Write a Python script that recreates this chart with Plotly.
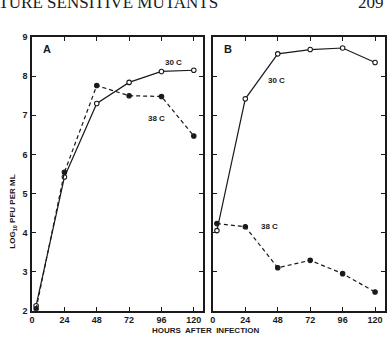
import plotly.graph_objects as go

W, H = 388, 342

hours = [3, 24, 48, 72, 96, 120]
a_30c = [2.13, 5.42, 7.30, 7.84, 8.12, 8.15]
a_38c = [2.05, 5.54, 7.76, 7.50, 7.48, 6.47]
b_30c = [4.05, 7.42, 8.57, 8.68, 8.72, 8.35]
b_38c = [4.23, 4.15, 3.10, 3.29, 2.95, 2.48]

x_ticks = [0, 24, 48, 72, 96, 120]
y_ticks = [2, 3, 4, 5, 6, 7, 8, 9]

INK = "#1a1a1a"

def px_x(p):
    return p / W

def px_y(p):
    return 1 - p / H

fig = go.Figure()

def add_series(x, y, xa, ya, filled, dash):
    fig.add_trace(go.Scatter(
        x=x, y=y, xaxis=xa, yaxis=ya, mode="lines+markers",
        line=dict(color=INK, width=1.2, dash=dash),
        marker=dict(size=4.5, color=INK if filled else "white",
                    symbol="circle", line=dict(color=INK, width=1.1)),
        showlegend=False, hoverinfo="skip"))

add_series(hours, a_30c, "x", "y", False, "solid")
add_series(hours, a_38c, "x", "y", True, "4px,3px")
add_series(hours, b_30c, "x2", "y2", False, "solid")
add_series(hours, b_38c, "x2", "y2", True, "4px,3px")

tickfont = dict(family="Liberation Sans, Arial, sans-serif", size=9, color=INK)
axis_common = dict(
    showline=True, linecolor=INK, linewidth=1.5, mirror="ticks",
    ticks="inside", ticklen=4, tickwidth=1.2, tickcolor=INK,
    showgrid=False, zeroline=False, tickfont=tickfont, fixedrange=True,
)

xt_text = ["<b>%d</b>" % v for v in x_ticks]
yt_text = ["<b>%d</b>" % v for v in y_ticks]

fig.update_layout(
    width=W, height=H,
    margin=dict(l=0, r=0, t=0, b=0),
    paper_bgcolor="white", plot_bgcolor="white",
    xaxis=dict(domain=[px_x(29.3), px_x(201.8)], range=[0, 127],
               tickvals=x_ticks, ticktext=xt_text,
               anchor="y", ticklabelstandoff=0, **axis_common),
    yaxis=dict(domain=[px_y(315), px_y(33)], range=[2, 9],
               tickvals=y_ticks, ticktext=yt_text,
               anchor="x", ticklabelstandoff=1, **axis_common),
    xaxis2=dict(domain=[px_x(211.5), px_x(384.5)], range=[0, 127],
                tickvals=x_ticks, ticktext=xt_text,
                anchor="y2", ticklabelstandoff=0, **axis_common),
    yaxis2=dict(domain=[px_y(315), px_y(33)], range=[2, 9],
                tickvals=y_ticks, showticklabels=False,
                anchor="x2", **axis_common),
)

lab = dict(family="Liberation Sans, Arial, sans-serif", size=9, color=INK)
annots = [
    dict(text="<b>A</b>", x=11, y=8.70, xref="x", yref="y", font=dict(lab, size=11)),
    dict(text="<b>30 C</b>", x=105, y=8.35, xref="x", yref="y", font=dict(lab, size=8)),
    dict(text="<b>38 C</b>", x=92.5, y=6.91, xref="x", yref="y", font=dict(lab, size=8)),
    dict(text="<b>B</b>", x=11.5, y=8.70, xref="x2", yref="y2", font=dict(lab, size=11)),
    dict(text="<b>30 C</b>", x=47, y=7.88, xref="x2", yref="y2", font=dict(lab, size=8)),
    dict(text="<b>38 C</b>", x=41.7, y=4.15, xref="x2", yref="y2", font=dict(lab, size=8)),
    dict(text="<b>HOURS  AFTER  INFECTION</b>", x=px_x(204), y=px_y(335),
         xref="paper", yref="paper", font=dict(lab, size=8)),
    dict(text="<b>LOG<sub>10</sub> PFU PER ML</b>", x=px_x(10), y=px_y(213),
         xref="paper", yref="paper", textangle=-90, font=dict(lab, size=8)),
    dict(text="TEMPERATURE SENSITIVE MUTANTS", x=px_x(219), y=px_y(-3),
         xref="paper", yref="paper", xanchor="right", yanchor="middle",
         font=dict(family="Liberation Serif, serif", size=17, color=INK)),
    dict(text="209", x=px_x(386), y=px_y(-3), xref="paper", yref="paper",
         xanchor="right", yanchor="middle",
         font=dict(family="Liberation Serif, serif", size=17, color=INK)),
]
for a in annots:
    a.setdefault("showarrow", False)
    a.setdefault("xanchor", "center")
    a.setdefault("yanchor", "middle")
    fig.add_annotation(**a)

fig.write_html("out.html")
